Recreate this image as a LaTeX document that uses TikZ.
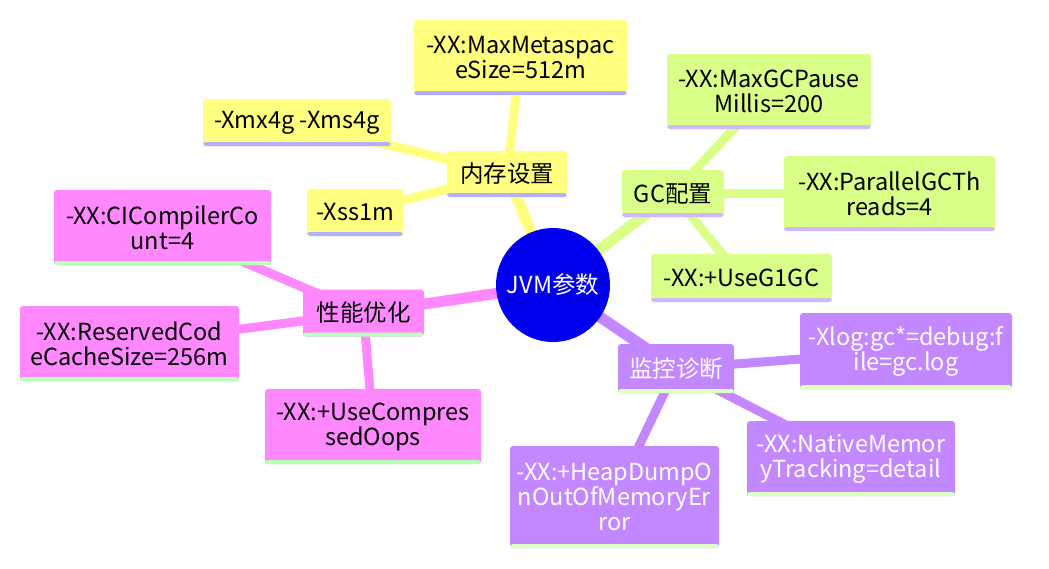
\documentclass[tikz,border=0pt]{standalone}
\usepackage{fontspec}
\setmainfont{Noto Sans CJK SC}
\usetikzlibrary{backgrounds}
\definecolor{RootBlue}{HTML}{0000EE}
\definecolor{MemYellow}{HTML}{FFFF80}
\definecolor{MemLine}{HTML}{B0B0FF}
\definecolor{GcGreen}{HTML}{D9FF88}
\definecolor{GcLine}{HTML}{D2B6FF}
\definecolor{PerfPink}{HTML}{FF88FF}
\definecolor{PerfLine}{HTML}{B8FFB8}
\definecolor{MonPurple}{HTML}{C388FF}
\definecolor{MonLine}{HTML}{DAFFC0}

\begin{document}
\begin{tikzpicture}[x=1pt, y=-1pt,
  font=\fontsize{23.5}{25}\selectfont,
  box/.style 2 args={fill=#1, rounded corners=3pt, inner sep=0pt, align=center,
    path picture={\fill[#2] ([yshift=4pt]path picture bounding box.south west)
      rectangle (path picture bounding box.south east);}},
  mem/.style={box={MemYellow}{MemLine}},
  gc/.style={box={GcGreen}{GcLine}},
  perf/.style={box={PerfPink}{PerfLine}},
  mon/.style={box={MonPurple}{MonLine}, text=white},
  trunk/.style={line width=11pt},
  twig/.style={line width=9pt}]
  \useasboundingbox (0,0) rectangle (1049,568);

  % Root of the mind map
  \node[circle, fill=RootBlue, text=white, minimum size=114pt, inner sep=0pt]
    (root) at (553,285) {JVM参数};

  % Memory branch
  \node[mem, minimum width=120pt, minimum height=46pt] (mem) at (507,174) {内存设置};
  \node[mem, minimum width=188pt, minimum height=47pt] (xmx) at (297,122.5) {-Xmx4g -Xms4g};
  \node[mem, minimum width=96pt, minimum height=47pt] (xss) at (355,212.5) {-Xss1m};
  \node[mem, minimum width=213pt, minimum height=75pt] (meta) at (520.5,57.5)
    {-XX:MaxMetaspac\\eSize=512m};

  % GC branch
  \node[gc, minimum width=102pt, minimum height=47pt] (gc) at (673,193.5) {GC配置};
  \node[gc, minimum width=204pt, minimum height=75pt] (pause) at (769,91.5)
    {-XX:MaxGCPause\\Millis=200};
  \node[gc, minimum width=211pt, minimum height=75pt] (par) at (889.5,193.5)
    {-XX:ParallelGCTh\\reads=4};
  \node[gc, minimum width=181pt, minimum height=48pt] (g1) at (741.5,278) {-XX:+UseG1GC};

  % Performance branch
  \node[perf, minimum width=121pt, minimum height=47pt] (perf) at (363.5,313) {性能优化};
  \node[perf, minimum width=217pt, minimum height=75pt] (cic) at (162.5,227.5)
    {-XX:CICompilerCo\\unt=4};
  \node[perf, minimum width=219pt, minimum height=75pt] (rcc) at (129.5,343.5)
    {-XX:ReservedCod\\eCacheSize=256m};
  \node[perf, minimum width=216pt, minimum height=75pt] (oops) at (373,426.5)
    {-XX:+UseCompres\\sedOops};

  % Monitoring branch
  \node[mon, minimum width=116pt, minimum height=49pt] (mon) at (676,368.5) {监控诊断};
  \node[mon, minimum width=212pt, minimum height=76pt] (xlog) at (906,351)
    {-Xlog:gc*=debug:f\\ile=gc.log};
  \node[mon, minimum width=208pt, minimum height=75pt] (nmt) at (851,458.5)
    {-XX:NativeMemor\\yTracking=detail};
  \node[mon, minimum width=209pt, minimum height=102pt] (heap) at (614.5,497)
    {-XX:+HeapDumpO\\nOutOfMemoryEr\\ror};

  % Connectors behind the boxes
  \begin{scope}[on background layer]
    \draw[trunk, MemYellow] (root.center) -- (mem.center);
    \draw[trunk, GcGreen] (root.center) -- (gc.center);
    \draw[trunk, PerfPink] (root.center) -- (perf.center);
    \draw[trunk, MonPurple] (root.center) -- (mon.center);
    \foreach \leaf in {xmx,xss,meta}{
      \draw[twig, MemYellow] (mem.center) -- (\leaf.center);
    }
    \foreach \leaf in {pause,par,g1}{
      \draw[twig, GcGreen] (gc.center) -- (\leaf.center);
    }
    \foreach \leaf in {cic,rcc,oops}{
      \draw[twig, PerfPink] (perf.center) -- (\leaf.center);
    }
    \foreach \leaf in {xlog,nmt,heap}{
      \draw[twig, MonPurple] (mon.center) -- (\leaf.center);
    }
  \end{scope}
\end{tikzpicture}
\end{document}
